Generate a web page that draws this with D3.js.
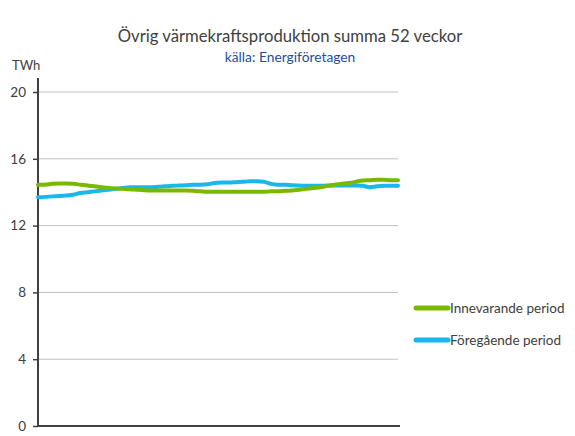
<!DOCTYPE html>
<html>
<head>
<meta charset="utf-8">
<script src="https://d3js.org/d3.v7.min.js"></script>
<style>
  body { margin: 0; background: #fff; }
  text { font-family: Lato, "Open Sans", sans-serif; }
</style>
</head>
<body>
<div id="chart-area"></div>
<script>

// week 1..52
var weeks = d3.range(1, 53);

// Innevarande period (TWh, rolling 52 week sum)
var innevarande = [
  14.45, 14.45, 14.5, 14.52, 14.52, 14.5, 14.45, 14.4, 14.35, 14.3,
  14.25, 14.22, 14.2, 14.18, 14.15, 14.12, 14.1, 14.1, 14.1, 14.1,
  14.1, 14.1, 14.08, 14.05, 14.02, 14.02, 14.02, 14.02, 14.02, 14.02,
  14.02, 14.02, 14.02, 14.05, 14.05, 14.08, 14.1, 14.15, 14.2, 14.25,
  14.3, 14.38, 14.45, 14.5, 14.55, 14.62, 14.7, 14.72, 14.75, 14.75,
  14.72, 14.72
];

// Föregående period
var foregaende = [
  13.7, 13.72, 13.75, 13.77, 13.8, 13.85, 13.95, 14.0, 14.05, 14.1,
  14.15, 14.2, 14.25, 14.3, 14.3, 14.3, 14.3, 14.32, 14.35, 14.38,
  14.4, 14.42, 14.45, 14.45, 14.47, 14.55, 14.58, 14.58, 14.6, 14.62,
  14.65, 14.65, 14.62, 14.5, 14.45, 14.45, 14.42, 14.4, 14.38, 14.38,
  14.38, 14.4, 14.4, 14.4, 14.4, 14.4, 14.38, 14.3, 14.35, 14.38,
  14.38, 14.38
];

var yTicks = [0, 4, 8, 12, 16, 20];
var seriesNames = ["Innevarande period", "Föregående period"];
var seriesColors = ["#7ab800", "#1ab7ea"];

var title = "Övrig värmekraftsproduktion summa 52 veckor";
var subtitle = "källa: Energiföretagen";
var unit = "TWh";


ProdChart = function(_parentElement){
  this.parentElement = _parentElement;
  this.initVis();
}

ProdChart.prototype.initVis = function(){
  var vis = this;

  vis.margin = { top: 92, right: 177, bottom: 10, left: 38 };
  vis.width = 575 - vis.margin.left - vis.margin.right;
  vis.height = 436 - vis.margin.top - vis.margin.bottom;

  vis.root = d3.select("#" + vis.parentElement).append("svg")
    .attr("width", 575)
    .attr("height", 436);

  vis.svg = vis.root.append("g")
    .attr("transform", "translate(" + vis.margin.left + "," + vis.margin.top + ")");

  // titles
  vis.root.append("text")
    .attr("x", 290).attr("y", 42)
    .attr("text-anchor", "middle")
    .attr("font-size", 16.7)
    .attr("fill", "#404040")
    .text(title);

  vis.root.append("text")
    .attr("x", 290).attr("y", 62)
    .attr("text-anchor", "middle")
    .attr("font-size", 13.8)
    .attr("fill", "#1f4e99")
    .text(subtitle);

  vis.root.append("text")
    .attr("x", 12).attr("y", 70)
    .attr("font-size", 13)
    .attr("fill", "#404040")
    .text(unit);

  // scales
  vis.x = d3.scalePoint()
    .domain(weeks)
    .range([0, vis.width]);

  vis.y = d3.scaleLinear()
    .domain([0, 20])
    .range([vis.height, 0]);

  // gridlines
  vis.svg.append("g").attr("class", "grid")
    .selectAll("line")
    .data(yTicks.filter(function(d){ return d > 0; }))
    .enter().append("line")
    .attr("x1", 0).attr("x2", vis.width)
    .attr("y1", function(d){ return vis.y(d); })
    .attr("y2", function(d){ return vis.y(d); })
    .attr("stroke", "#c0c0c0")
    .attr("stroke-width", 1);

  vis.yAxis = d3.axisLeft(vis.y)
    .tickValues(yTicks)
    .tickSize(5)
    .tickPadding(7);

  var ya = vis.svg.append("g").attr("class", "y-axis").call(vis.yAxis);
  ya.select(".domain").remove();
  ya.selectAll("line").attr("stroke", "#404040").attr("stroke-width", 1.5);
  ya.selectAll("text").attr("font-size", 13.5).attr("fill", "#404040")
    .style("font-family", "Lato, 'Open Sans', sans-serif");

  // axis lines
  vis.svg.append("line")
    .attr("x1", 0).attr("x2", 0)
    .attr("y1", -14).attr("y2", vis.height)
    .attr("stroke", "#404040").attr("stroke-width", 2);

  vis.svg.append("line")
    .attr("x1", 0).attr("x2", vis.width + 2)
    .attr("y1", vis.height).attr("y2", vis.height)
    .attr("stroke", "#404040").attr("stroke-width", 2);

  vis.line = d3.line()
    .x(function(d, i){ return vis.x(weeks[i]); })
    .y(function(d){ return vis.y(d); })
    .curve(d3.curveMonotoneX);

  vis.updateVis();
}

ProdChart.prototype.updateVis = function(){
  var vis = this;
  var series = [innevarande, foregaende];

  // draw the previous period first so the current one sits on top where they cross
  [1, 0].forEach(function(k){
    vis.svg.append("path")
      .datum(series[k])
      .attr("fill", "none")
      .attr("stroke", seriesColors[k])
      .attr("stroke-width", 4)
      .attr("stroke-linecap", "round")
      .attr("stroke-linejoin", "round")
      .attr("d", vis.line);
  });

  // legend
  var leg = vis.root.append("g").attr("transform", "translate(414,308)");
  seriesNames.forEach(function(name, i){
    var g = leg.append("g").attr("transform", "translate(0," + (i * 32) + ")");
    g.append("line")
      .attr("x1", 2).attr("x2", 34)
      .attr("stroke", seriesColors[i])
      .attr("stroke-width", 5)
      .attr("stroke-linecap", "round");
    g.append("text")
      .attr("x", 36).attr("y", 5)
      .attr("font-size", 13.5)
      .attr("fill", "#404040")
      .text(name);
  });
}

new ProdChart("chart-area");

</script>
</body>
</html>
